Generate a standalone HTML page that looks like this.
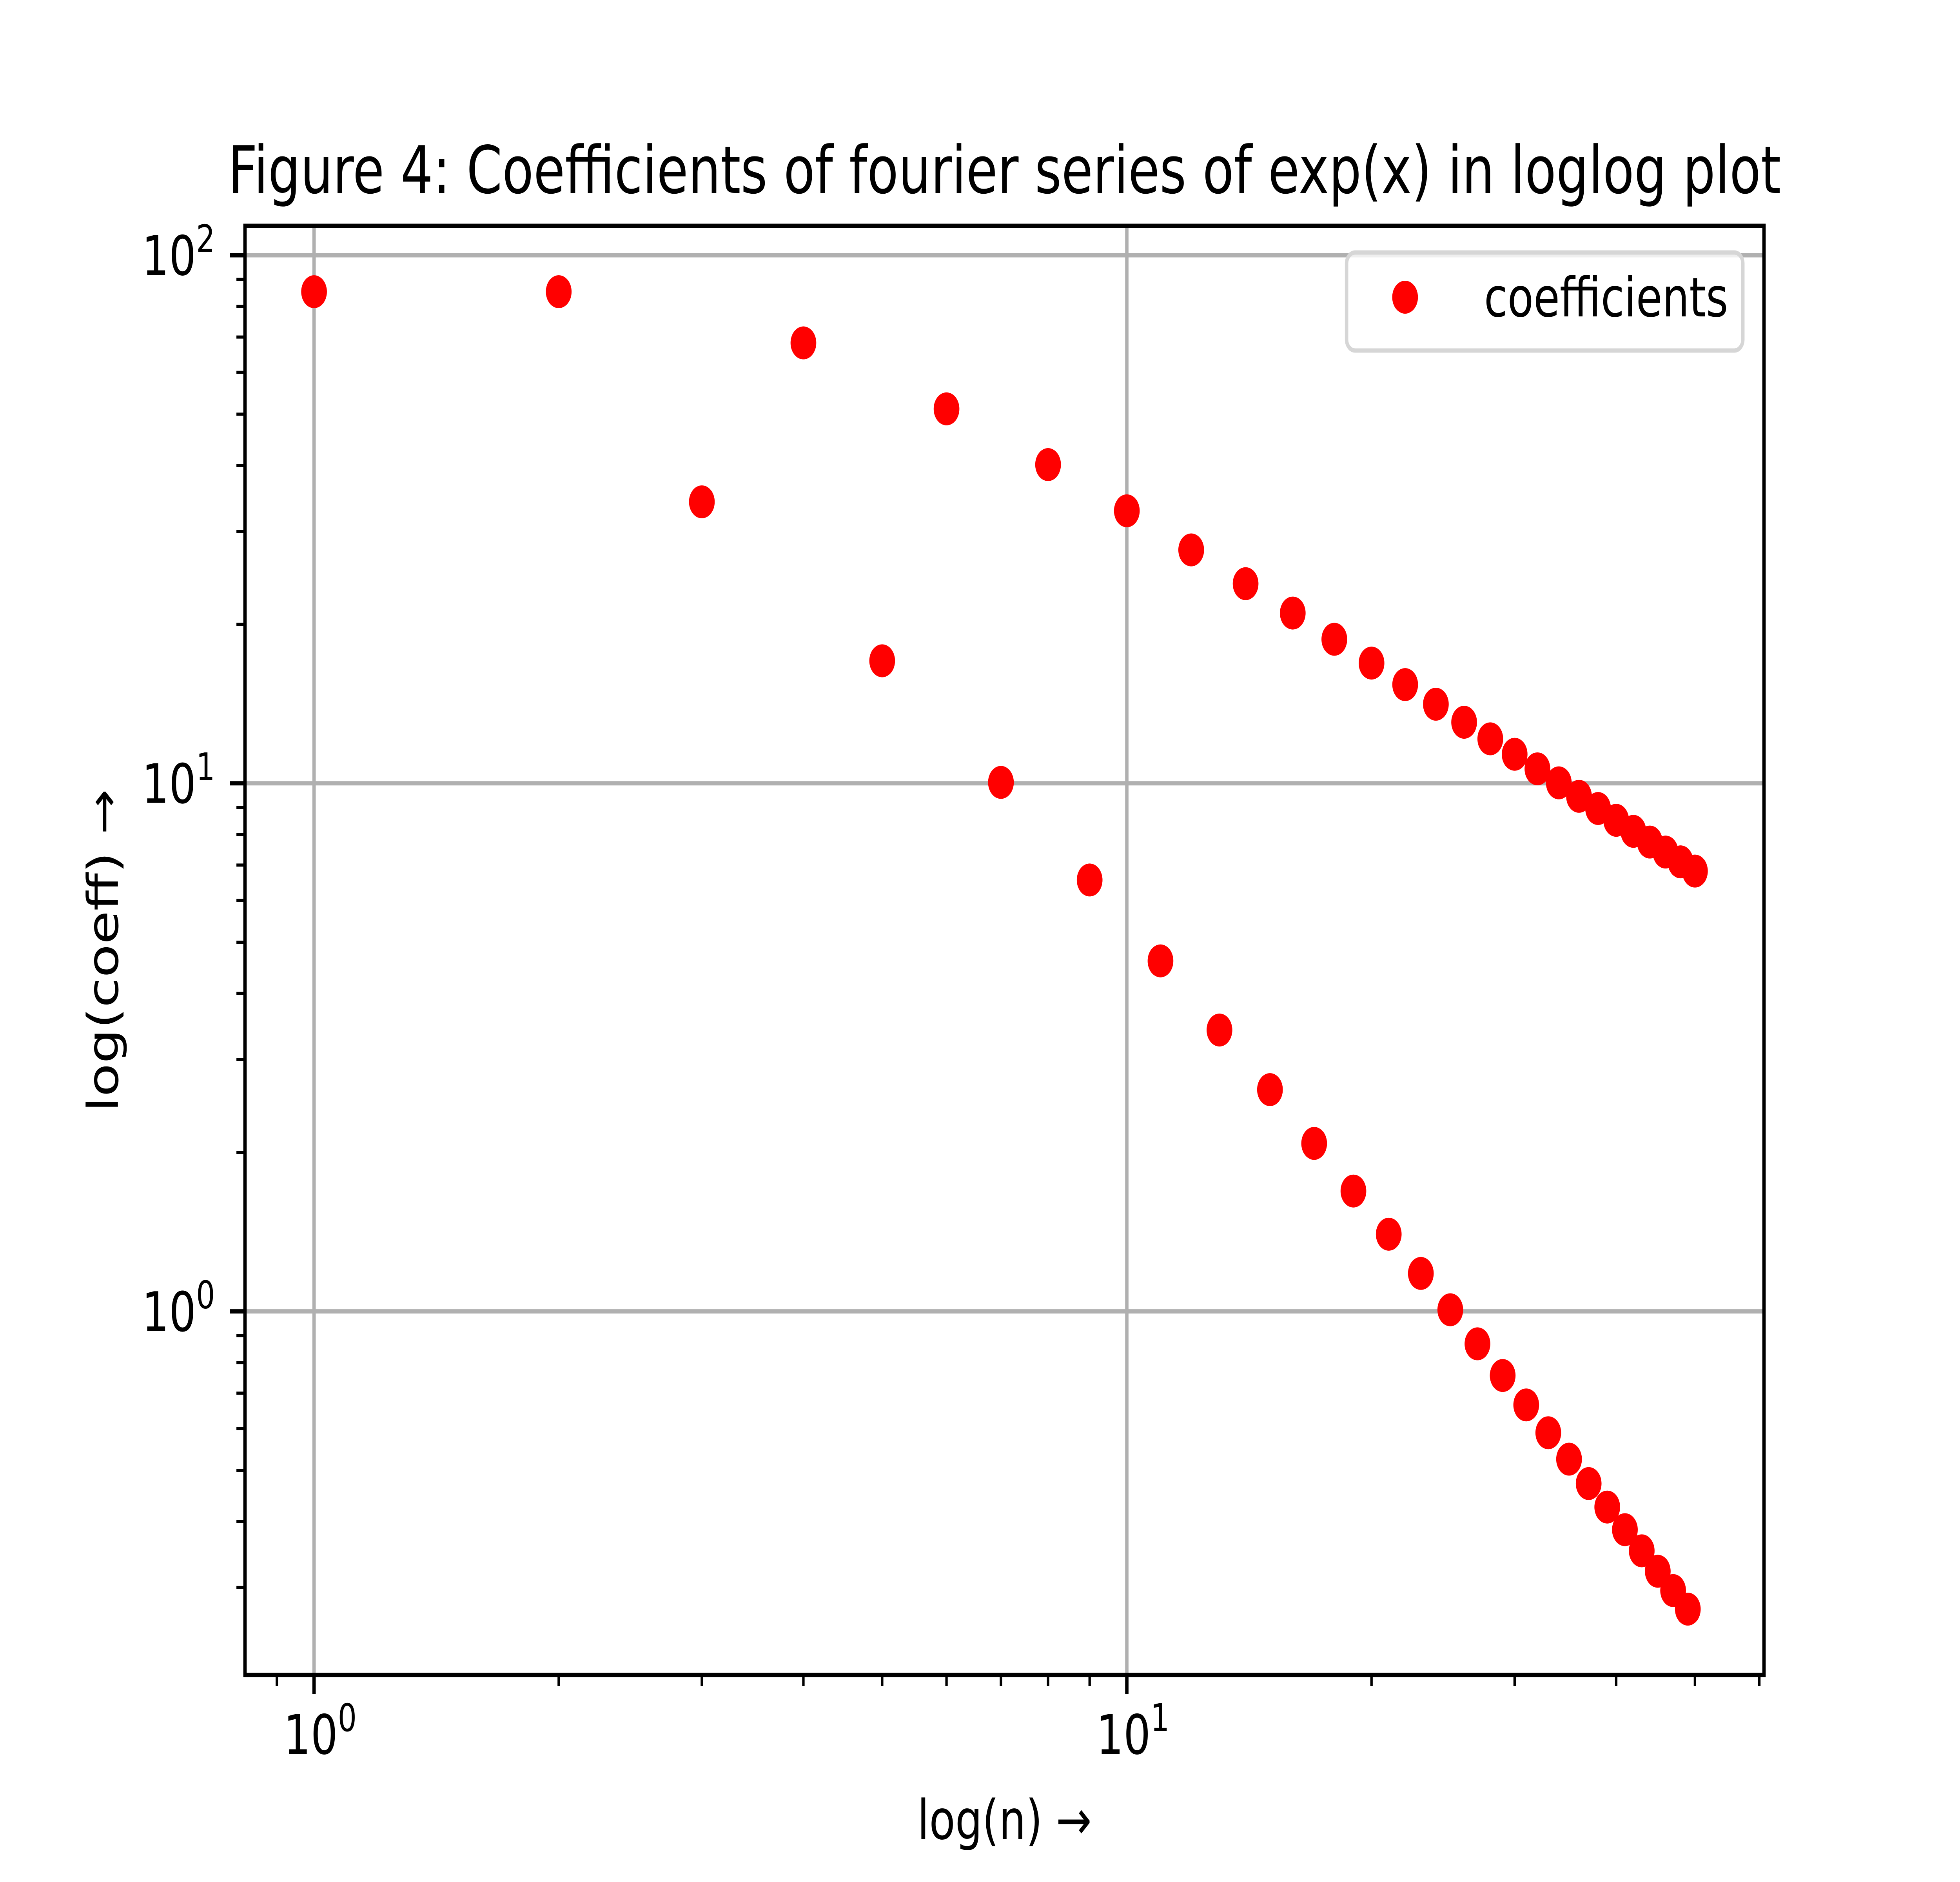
<!DOCTYPE html>
<html><head><meta charset="utf-8">
<meta name="viewport" content="width=6400, initial-scale=1">
<style>
html,body{margin:0;padding:0;background:#fff;overflow:hidden;width:100vw;height:100vh;}
svg{display:block;width:100vw;height:100vh;}
text{font-family:"DejaVu Sans","Liberation Sans",sans-serif;fill:#000;}
</style></head>
<body>
<svg id="chart" viewBox="0 0 6400 4800" preserveAspectRatio="none" xmlns="http://www.w3.org/2000/svg">
<rect width="6400" height="4800" fill="#fff"/>
<g id="grid"></g>
<g id="points"></g>
<g id="ticks"></g>
<rect x="800" y="576" width="4960" height="3696" fill="none" stroke="#000" stroke-width="11"/>
<text x="3280" y="492" font-size="167" text-anchor="middle">Figure 4: Coefficients of fourier series of exp(x) in loglog plot</text>
<text x="3280" y="4690" font-size="139" text-anchor="middle">log(n) →</text>
<text x="385" y="2424" font-size="139" text-anchor="middle" transform="rotate(-90 385 2424)">log(coeff) →</text>
<g>
<rect x="4397" y="644" width="1294" height="250" rx="28" fill="#fff" fill-opacity="0.8" stroke="#d6d6d6" stroke-width="11"/>
<circle cx="4588" cy="758" r="42" fill="#ff0000"/>
<text x="4846" y="807" font-size="139">coefficients</text>
</g>
</svg>
<script>
const nValues = [1,2,3,4,5,6,7,8,9,10,11,12,13,14,15,16,17,18,19,20,21,22,23,24,25,26,27,28,29,30,31,32,33,34,35,36,37,38,39,40,41,42,43,44,45,46,47,48,49,50];
const values = [85.3,85.3,34.12,68.24,17.06,51.18,10.04,40.14,6.56,32.81,4.61,27.67,3.41,23.88,2.63,21.01,2.08,18.74,1.69,16.89,1.40,15.38,1.18,14.12,1.007,13.05,0.868,12.14,0.756,11.35,0.665,10.65,0.589,10.02,0.525,9.45,0.472,8.96,0.426,8.51,0.386,8.11,0.352,7.74,0.322,7.41,0.296,7.10,0.273,6.82];
const xTickExps = [0,1];
const yTickExps = [0,1,2];

const NS="http://www.w3.org/2000/svg";
const L=800,R=5760,T=576,B=4272;
const lx=nValues.map(Math.log10), ly=values.map(Math.log10);
const xmin0=Math.min(...lx), xmax0=Math.max(...lx), ymin0=Math.min(...ly), ymax0=Math.max(...ly);
const xm=(xmax0-xmin0)*0.05, ym=(ymax0-ymin0)*0.05;
const XMIN=xmin0-xm, XMAX=xmax0+xm, YMIN=ymin0-ym, YMAX=ymax0+ym;
function xs(v){return L+(Math.log10(v)-XMIN)/(XMAX-XMIN)*(R-L);}
function ys(v){return B-(Math.log10(v)-YMIN)/(YMAX-YMIN)*(B-T);}
function mk(tag,attrs,parent){const e=document.createElementNS(NS,tag);for(const k in attrs)e.setAttribute(k,attrs[k]);parent.appendChild(e);return e;}
const grid=document.getElementById('grid'), ticks=document.getElementById('ticks'), pts=document.getElementById('points');

function label(x,y,exp,anchor,parent){
  const t=mk('text',{x:x,y:y,'font-size':139,'text-anchor':anchor},parent);
  
  
  const a=document.createElementNS(NS,'tspan');a.textContent='10';t.appendChild(a);
  const b=document.createElementNS(NS,'tspan');b.setAttribute('font-size','97');b.setAttribute('dy','-58');b.textContent=String(exp);t.appendChild(b);
  return t;
}
xTickExps.forEach(e=>{
  const v=Math.pow(10,e), x=xs(v);
  const g=mk('line',{x1:x,x2:x,y1:T,y2:B,stroke:'#b0b0b0','stroke-width':11},grid);
  
  
  const t=mk('line',{x1:x,x2:x,y1:B,y2:B+49,stroke:'#000','stroke-width':11},ticks);
  
  
  label(x+20,4473,e,'middle',ticks);
});
for(let d=-1;d<=2;d++){for(let m=2;m<=9;m++){
  const v=m*Math.pow(10,d);
  if(Math.log10(v)>XMIN&&Math.log10(v)<XMAX){const x=xs(v);
    const t=mk('line',{x1:x,x2:x,y1:B,y2:B+28,stroke:'#000','stroke-width':8},ticks);
    
    }
  if(Math.log10(v)>YMIN&&Math.log10(v)<YMAX){const y=ys(v);
    const t=mk('line',{x1:L-28,x2:L,y1:y,y2:y,stroke:'#000','stroke-width':8},ticks);
    
    }
}}
yTickExps.forEach(e=>{
  const v=Math.pow(10,e), y=ys(v);
  const g=mk('line',{x1:L,x2:R,y1:y,y2:y,stroke:'#b0b0b0','stroke-width':11},grid);
  
  
  const t=mk('line',{x1:L-49,x2:L,y1:y,y2:y,stroke:'#000','stroke-width':11},ticks);
  
  
  label(L-98,y+50,e,'end',ticks);
});
values.forEach((v,i)=>{
  const c=mk('circle',{cx:xs(nValues[i]),cy:ys(v),r:42,fill:'#ff0000'},pts);
  
  
});
</script>
</body></html>
